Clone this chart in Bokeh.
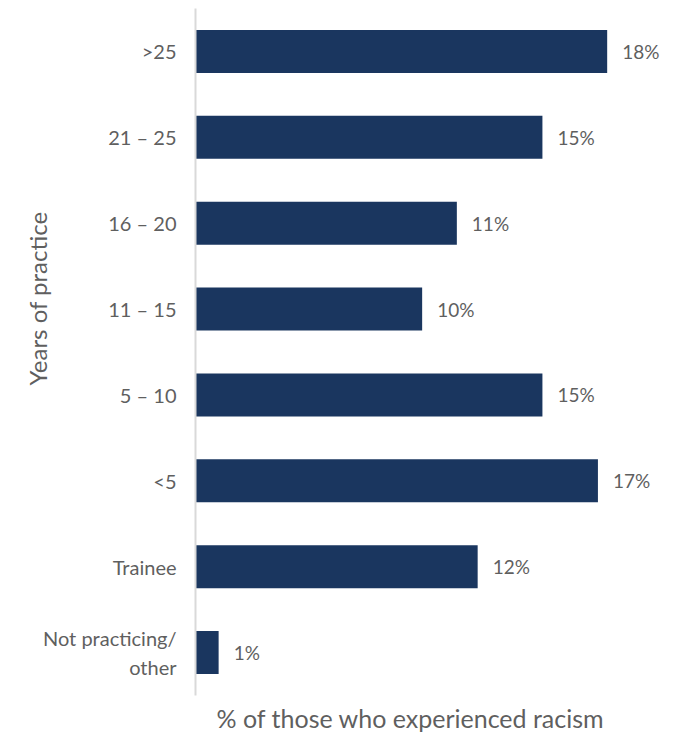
from bokeh.plotting import figure
from bokeh.models import ColumnDataSource, Range1d, FixedTicker, Title
from bokeh.core.properties import value
from bokeh.embed import file_html
from bokeh.resources import INLINE

categories = [">25", "21 – 25", "16 – 20", "11 – 15", "5 – 10", "<5", "Trainee", "Not practicing/\nother"]
values = [17.8, 15.0, 11.3, 9.8, 15.0, 17.4, 12.2, 1.0]
value_labels = ["18%", "15%", "11%", "10%", "15%", "17%", "12%", "1%"]

FONT = "Lato"
GREY = "#5f5f5f"
BAR = "#1a365f"

src = ColumnDataSource(dict(cat=categories, val=values, lab=value_labels))

p = figure(
    y_range=list(reversed(categories)),
    x_range=Range1d(0, 21.1),
    width=683, height=742,
    output_backend="svg", toolbar_location=None,
    min_border_left=195, min_border_right=0, min_border_top=8, min_border_bottom=47,
)

p.hbar(y="cat", right="val", left=0, height=0.5, source=src, color=BAR, line_color=None)
p.text(x="val", y="cat", text="lab", source=src, x_offset=15,
       text_align="left", text_baseline="middle",
       text_font=value(FONT), text_font_size="19px", text_color=GREY)

p.outline_line_color = None
p.grid.visible = False
p.background_fill_color = "white"
p.border_fill_color = "white"

yax = p.yaxis[0]
yax.axis_line_color = "#d9d9d9"
yax.axis_line_width = 2
yax.major_tick_line_color = None
yax.minor_tick_line_color = None
yax.major_tick_out = 0
yax.major_label_standoff = 19
yax.major_label_text_font = FONT
yax.major_label_text_font_size = "20px"
yax.major_label_text_color = GREY

xax = p.xaxis[0]
xax.ticker = FixedTicker(ticks=[])
xax.axis_line_color = None
xax.major_tick_line_color = None
xax.minor_tick_line_color = None
xax.major_tick_out = 0

ytitle = Title(text="Years of practice", align="left", offset=310,
               text_font=FONT, text_font_size="24px", text_font_style="normal",
               text_color=GREY, standoff=-22)
p.add_layout(ytitle, "left")

xtitle = Title(text="% of those who experienced racism", align="left", offset=21,
               text_font=FONT, text_font_size="25px", text_font_style="normal",
               text_color=GREY, standoff=10)
p.add_layout(xtitle, "below")

open("out.html", "w").write(file_html(p, INLINE))
